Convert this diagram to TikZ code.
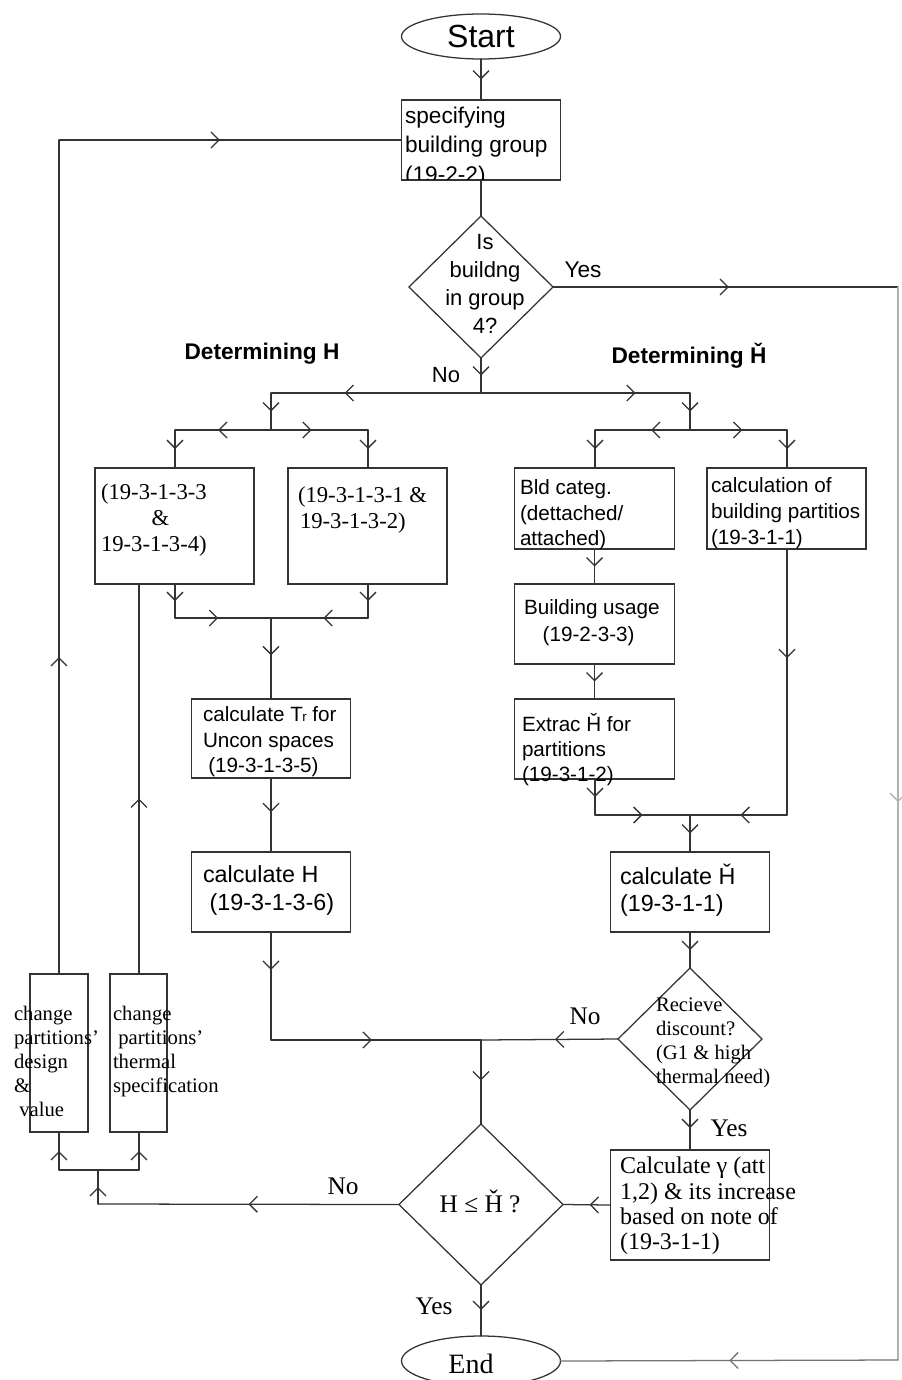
\documentclass[tikz,border=0pt]{standalone}
\usepackage{fontspec}
\setmainfont{Liberation Serif}
\newfontfamily\arial{Liberation Sans}
\usetikzlibrary{shapes.geometric,arrows.meta,decorations.markings}
\begin{document}
\begin{tikzpicture}[x=0.75pt,y=-0.75pt,
  every node/.style={inner sep=0pt, outer sep=0pt},
  ln/.style={draw=black!80, line width=0.95pt, line cap=round, line join=round},
  ar/.style={postaction={decorate,decoration={markings,mark=at position #1 with {\arrow{Straight Barb[length=6pt,width=12pt,line width=0.95pt]}}}}},
  ar/.default=0.5,
  bx/.style 2 args={draw=black!80, line width=0.95pt, rectangle, minimum width=#1*0.75pt, minimum height=#2*0.75pt},
  dia/.style 2 args={draw=black!80, line width=0.95pt, diamond, minimum width=#1*0.75pt, minimum height=#2*0.75pt},
  ell/.style={draw=black!80, line width=0.95pt, ellipse, minimum width=159*0.75pt},
  sf/.style 2 args={font={\arial\fontsize{#1}{#2}\selectfont}, align=left, anchor=north west},
  rm/.style 2 args={font={\fontsize{#1}{#2}\selectfont}, align=left, anchor=north west},
]
\useasboundingbox (0,0) rectangle (901,1380);

% ---------- nodes ----------
\node[ell, minimum height=45*0.75pt] (start) at (481,36.5) {};
\node[font={\arial\fontsize{24}{28}\selectfont}] (tstart) at (481,36) {Start};

\node[bx={159}{80}] (spec) at (481,140) {};
\begin{scope}
\clip (401,100) rectangle (561,180);
\node[sf={17}{22}] (tspec) at (405,107) {specifying\\building group\\(19-2-2)};
\end{scope}

\node[dia={144}{142}] (d1) at (481,287) {};
\node[font={\arial\fontsize{16.5}{21}\selectfont}, align=center] (td1) at (485,284) {Is\\buildng\\in group\\4?};

\node[font={\arial\bfseries\fontsize{17}{20}\selectfont}] (detH) at (262,354) {Determining H};
\node[font={\arial\bfseries\fontsize{17}{20}\selectfont}] (detHc) at (689,356) {Determining Ȟ};

\node[bx={159}{116}] (boxA) at (174.5,526) {};
\node[rm={17}{19.5}] (tA) at (101,484) {(19-3-1-3-3\\\hspace*{38pt}\&\\19-3-1-3-4)};
\node[bx={159}{116}] (boxB) at (367.5,526) {};
\node[rm={17}{19}] (tB) at (298,487) {(19-3-1-3-1 \&\\\hspace*{1.5pt}19-3-1-3-2)};

\node[bx={159}{79}] (boxC) at (271,738.5) {};
\node[sf={15.5}{19}] (tC) at (203,707) {calculate T\kern-0.5pt{\fontsize{10}{10}\selectfont r} for\\Uncon spaces\\\hspace*{4pt}(19-3-1-3-5)};
\node[bx={159}{80}] (boxD) at (271,892) {};
\node[sf={17.5}{20.5}] (tD) at (203,866) {calculate H\\\hspace*{5pt}(19-3-1-3-6)};

\node[bx={160}{81}] (boxE) at (594.5,508.5) {};
\node[sf={15.5}{19}] (tE) at (520,480) {Bld categ.\\(dettached/\\attached)};
\node[bx={159}{81}] (boxF) at (786.5,508.5) {};
\node[sf={15.5}{19.5}] (tF) at (711,478) {calculation of\\building partitios\\(19-3-1-1)};
\node[bx={160}{80}] (boxG) at (594.5,624) {};
\node[sf={15.5}{20}] (tG) at (524,600) {Building usage\\\hspace*{14pt}(19-2-3-3)};
\node[bx={160}{80}] (boxH) at (594.5,739) {};
\node[sf={15.5}{19}] (tH) at (522,713) {Extrac Ȟ for\\partitions\\(19-3-1-2)};
\node[bx={159}{80}] (boxI) at (690,892) {};
\node[sf={17.5}{20.5}] (tI) at (620,864) {calculate Ȟ\\(19-3-1-1)};

\node[dia={144}{142}] (d2) at (690,1039) {};
\node[rm={15.5}{18}] (td2) at (656,998) {Recieve\\discount?\\(G1 \& high\\thermal need)};

\node[bx={159}{110}] (boxJ) at (690,1205) {};
\node[rm={18}{19}] (tJ) at (620,1157) {Calculate γ (att\\1,2) \& its increase\\based on note of\\(19-3-1-1)};

\node[dia={164}{161}] (d3) at (481,1204.5) {};
\node[font={\fontsize{19}{22}\selectfont}] (td3) at (480,1201) {H ≤ Ȟ ?};

\node[ell, minimum height=50*0.75pt] (end) at (481,1361) {};
\node[font={\fontsize{21}{24}\selectfont}] (tend) at (471,1364) {End};

\node[bx={58}{158}] (boxK) at (59,1053) {};
\node[rm={15.5}{18}] (tK) at (14,1006) {change\\partitions'\\design\\\&\\\hspace*{4pt}value};
\node[bx={57}{158}] (boxL) at (138.5,1053) {};
\node[rm={15.5}{18}] (tL) at (113,1006) {change\\\hspace*{4pt}partitions'\\thermal\\specification};

% labels
\node[font={\arial\fontsize{17}{20}\selectfont}] (yes1) at (583,270) {Yes};
\node[font={\arial\fontsize{16.5}{20}\selectfont}] (no1) at (446,375) {No};
\node[font={\fontsize{19}{22}\selectfont}] (no2) at (585,1016) {No};
\node[font={\fontsize{19}{22}\selectfont}] (yes2) at (729,1128) {Yes};
\node[font={\fontsize{19}{22}\selectfont}] (no3) at (343,1186) {No};
\node[font={\fontsize{19}{22}\selectfont}] (yes3) at (434,1306) {Yes};

% ---------- junction coordinates ----------
\coordinate (R1) at (898,287);
\coordinate (R2) at (898,1360);
\coordinate (J1) at (481,393);
\coordinate (JL) at (271,393);
\coordinate (JL2) at (271,430);
\coordinate (JLa) at (175,430);
\coordinate (JLb) at (368,430);
\coordinate (JR) at (690,393);
\coordinate (JR2) at (690,430);
\coordinate (JRa) at (595,430);
\coordinate (JRb) at (787,430);
\coordinate (M1) at (175,618);
\coordinate (M2) at (368,618);
\coordinate (M3) at (271,618);
\coordinate (N1) at (595,815);
\coordinate (N2) at (787,815);
\coordinate (N3) at (690,815);
\coordinate (L1) at (271,1040);
\coordinate (C1) at (481,1040);
\coordinate (B1) at (98,1204);
\coordinate (B2) at (98,1170);
\coordinate (B3) at (59,1170);
\coordinate (B4) at (139,1170);
\coordinate (T1) at (59,140);
\coordinate (AL) at (139,584);

% ---------- connectors ----------
\draw[ln,ar] (start) -- (spec);
\draw[ln] (spec) -- (d1);
\draw[ln,ar=0.51] (d1.east) -- (R1);
\draw[ln,draw=black!30,ar=0.48] (R1) -- (R2);
\draw[ln,draw=black!55,ar=0.5] (R2) -- (end.east);

\draw[ln,ar] (d1.south) -- (J1);
\draw[ln,ar=0.65] (J1) -- (JL);
\draw[ln,ar=0.74] (J1) -- (JR);
\draw[ln,ar] (JL) -- (JL2);
\draw[ln,ar=0.55] (JL2) -- (JLa);
\draw[ln,ar=0.42] (JL2) -- (JLb);
\draw[ln,ar] (JLa) -- (JLa |- boxA.north);
\draw[ln,ar] (JLb) -- (JLb |- boxB.north);
\draw[ln,ar] (M1 |- boxA.south) -- (M1);
\draw[ln,ar] (M2 |- boxB.south) -- (M2);
\draw[ln,ar=0.45] (M1) -- (M3);
\draw[ln,ar=0.46] (M2) -- (M3);
\draw[ln,ar=0.46] (M3) -- (boxC);
\draw[ln,ar=0.46] (boxC) -- (boxD);
\draw[ln,ar=0.35] (boxD) -- (L1);
\draw[ln,ar=0.48] (L1) -- (C1);
\draw[ln,ar=0.48] (C1) -- (d3.north);

\draw[ln,ar] (JR) -- (JR2);
\draw[ln,ar=0.41] (JR2) -- (JRa);
\draw[ln,ar=0.54] (JR2) -- (JRb);
\draw[ln,ar] (JRa) -- (JRa |- boxE.north);
\draw[ln,ar] (JRb) -- (JRb |- boxF.north);
\draw[ln,ar] (boxE) -- (boxG);
\draw[ln,ar] (boxG) -- (boxH);
\draw[ln,ar] (N1 |- boxH.south) -- (N1);
\draw[ln,ar=0.41] (N2 |- boxF.south) -- (N2);
\draw[ln,ar=0.5] (N1) -- (N3);
\draw[ln,ar=0.48] (N2) -- (N3);
\draw[ln,ar] (N3) -- (boxI);
\draw[ln,ar] (boxI) -- (d2);
\draw[ln,ar=0.46] (d2.west) -- (C1);
\draw[ln,ar=0.45] (d2.south) -- (boxJ);
\draw[ln,ar=0.44] (boxJ.west) -- (d3.east);
\draw[ln,ar=0.49] (d3.south) -- (end.north);

\draw[ln,ar=0.5] (d3.west) -- (B1);
\draw[ln,ar] (B1) -- (B2);
\draw[ln] (B3) -- (B4);
\draw[ln,ar] (B3) -- (B3 |- boxK.south);
\draw[ln,ar] (B4) -- (B4 |- boxL.south);
\draw[ln,ar=0.38] (boxK.north) -- (T1);
\draw[ln,ar=0.47] (T1) -- (spec.west);
\draw[ln,ar=0.45] (B4 |- boxL.north) -- (AL);
\end{tikzpicture}
\end{document}
